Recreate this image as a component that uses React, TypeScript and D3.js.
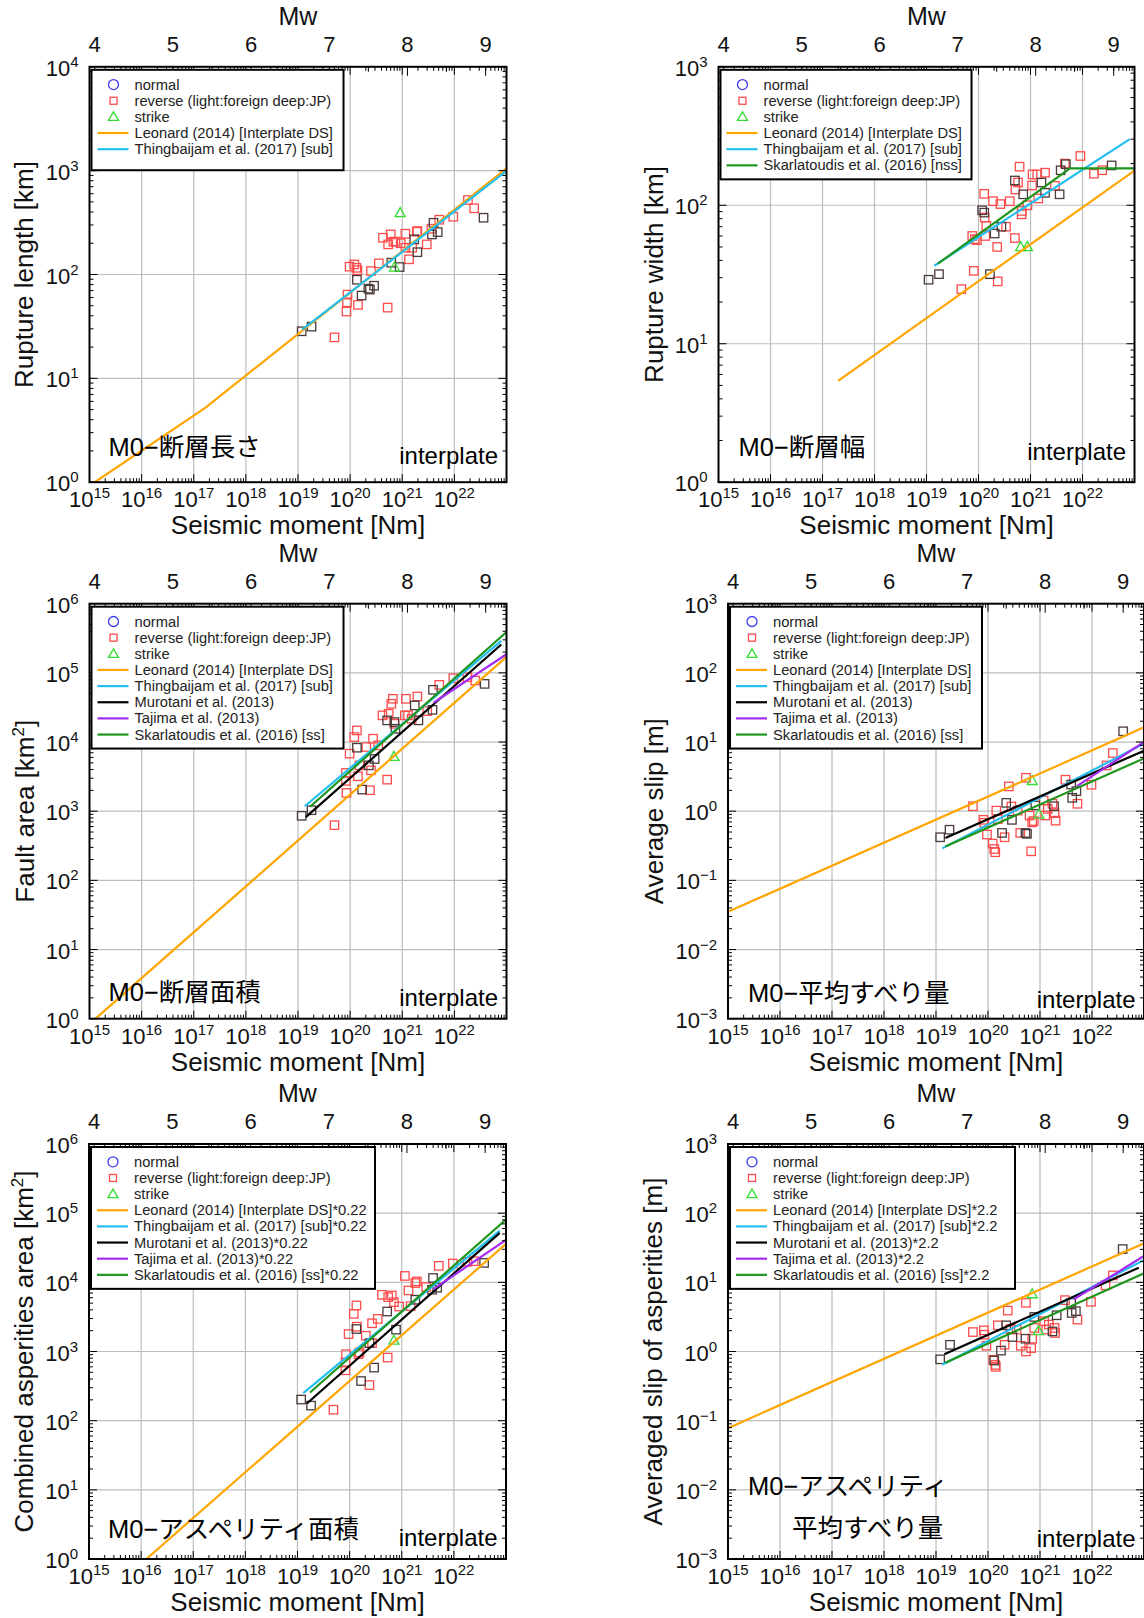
import React from 'react';
import * as d3 from 'd3';

type Pt = [number, number]; // [log10 seismic moment (Nm), value]

// ---------- Panel 1: rupture length [km] ----------
const lengthJapan: Pt[] = [[19.07, 28.4], [19.26, 31.5], [20.13, 89], [20.22, 62.7], [20.35, 73], [20.38, 71.6], [20.46, 78], [20.79, 130], [20.95, 118], [21.23, 218], [21.29, 164], [21.57, 243], [21.6, 315], [21.68, 256], [22.56, 352]];
const lengthForeign: Pt[] = [[19.7, 24.8], [19.93, 44], [19.94, 54], [19.95, 64], [19.99, 119], [20.08, 125], [20.12, 116], [20.14, 110], [20.15, 51], [20.4, 108], [20.55, 128], [20.63, 226], [20.72, 48], [20.73, 195], [20.78, 243], [20.83, 207], [20.87, 207], [20.97, 200], [21.06, 247], [21.06, 181], [21.13, 140], [21.19, 181], [21.28, 258], [21.29, 262], [21.47, 195], [21.56, 276], [21.71, 337], [21.98, 360], [22.26, 521], [22.38, 434]];
const lengthStrike: Pt[] = [[20.96, 394], [20.85, 118]];
const lengthLeonard: Pt[] = [[15.1, 1.0], [17.22, 5.2], [23.0, 1054]];
const lengthThingbaijam: Pt[] = [[19.08, 29.4], [22.98, 977]];

// ---------- Panel 2: rupture width [km] ----------
const widthJapan: Pt[] = [[19.04, 29], [19.24, 31.8], [20.07, 92], [20.11, 88.5], [20.22, 31.8], [20.31, 62.5], [20.44, 70], [20.7, 151], [20.86, 120], [21.21, 146], [21.28, 123], [21.56, 120], [21.58, 179], [21.68, 198], [22.56, 194]];
const widthForeign: Pt[] = [[19.67, 24.8], [19.91, 33.6], [19.88, 60], [19.93, 57], [19.97, 56], [20.11, 121], [20.12, 81.5], [20.13, 60], [20.15, 71], [20.28, 107], [20.36, 50], [20.42, 102], [20.37, 28.2], [20.53, 70], [20.6, 107], [20.7, 58], [20.71, 130], [20.76, 146], [20.79, 190], [20.83, 91], [20.83, 86], [20.94, 100], [21.03, 139], [21.04, 167], [21.13, 167], [21.15, 112], [21.28, 172], [21.47, 138], [21.66, 200], [21.96, 227], [22.22, 169], [22.38, 179]];
const widthStrike: Pt[] = [[20.81, 50.3], [20.94, 50.3]];
const widthLeonard: Pt[] = [[17.3, 5.4], [23.0, 178]];
const widthThingbaijam: Pt[] = [[19.15, 36.6], [22.91, 300]];
const widthSkarlatoudis: Pt[] = [[19.22, 37.9], [21.76, 184.5], [23.0, 184.5]];

// ---------- Panel 3: fault area [km2] ----------
const areaJapan: Pt[] = [[19.07, 857], [19.26, 1033], [20.13, 8280], [20.23, 2055], [20.36, 4605], [20.47, 5684], [20.71, 20560], [20.85, 19420], [20.87, 15560], [21.24, 33800], [21.31, 20560], [21.59, 56900], [21.58, 29200], [22.58, 69300]];
const areaForeign: Pt[] = [[19.7, 628], [19.92, 3575], [19.92, 2740], [19.93, 1838], [19.99, 6790], [20.08, 11800], [20.13, 14700], [20.15, 3200], [20.18, 4605], [20.31, 8470], [20.38, 2010], [20.4, 3900], [20.44, 11170], [20.54, 8950], [20.62, 24300], [20.71, 2860], [20.74, 25650], [20.79, 35700], [20.82, 42200], [20.85, 18370], [21.05, 24300], [21.07, 42200], [21.11, 24300], [21.18, 21700], [21.29, 45600], [21.48, 28000], [21.71, 67100], [21.98, 83700], [22.25, 86600], [22.4, 77500]];
const areaStrike: Pt[] = [[20.84, 6210]];
const areaLeonard: Pt[] = [[15.115, 1], [23.0, 1.7e5]];
const areaThingbaijam: Pt[] = [[19.13, 1180], [22.9, 2.9e5]];
const areaMurotani: Pt[] = [[19.15, 820], [22.9, 2.57e5]];
const areaTajima: Pt[] = [[21.6, 3.7e4], [23.0, 1.86e5]];
const areaSkarlatoudis: Pt[] = [[19.23, 1160], [23.0, 3.9e5]];

// ---------- Panel 4: average slip [m] ----------
const slipJapan: Pt[] = [[19.08, 0.42], [19.26, 0.54], [20.27, 0.485], [20.35, 1.32], [20.46, 0.75], [20.72, 0.485], [20.75, 0.47], [20.91, 1.21], [21.27, 1.18], [21.6, 2.43], [21.62, 1.56], [21.7, 1.95], [22.6, 14.3]];
const slipForeign: Pt[] = [[19.71, 1.18], [19.91, 0.75], [19.93, 0.68], [19.98, 0.46], [20.09, 0.34], [20.12, 0.284], [20.14, 0.255], [20.16, 1.02], [20.19, 0.77], [20.32, 0.42], [20.4, 2.28], [20.45, 1.17], [20.57, 1.02], [20.62, 0.485], [20.73, 3.04], [20.8, 0.865], [20.85, 0.69], [20.88, 0.72], [20.83, 0.263], [21.07, 1.43], [21.1, 0.865], [21.15, 1.08], [21.24, 1.28], [21.28, 0.935], [21.3, 0.73], [21.49, 2.85], [21.72, 1.28], [21.99, 2.41], [22.28, 4.59], [22.4, 6.93]];
const slipStrike: Pt[] = [[20.85, 2.78], [20.98, 0.91]];
const slipLeonard: Pt[] = [[15.02, 0.0357], [23.0, 16.3]];
const slipThingbaijam: Pt[] = [[19.12, 0.29], [23.0, 9.5]];
const slipMurotani: Pt[] = [[19.18, 0.41], [23.0, 7.5]];
const slipTajima: Pt[] = [[21.71, 2.3], [23.0, 10.0]];
const slipSkarlatoudis: Pt[] = [[19.18, 0.31], [23.0, 5.8]];

// ---------- Panel 5: combined asperities area [km2] ----------
const aspAreaJapan: Pt[] = [[19.07, 202], [19.26, 165], [20.13, 2114], [20.22, 374], [20.38, 1322], [20.47, 585], [20.72, 3785], [20.89, 2070], [21.26, 5600], [21.58, 7820], [21.6, 11560], [21.68, 8360], [22.58, 19100]];
const aspAreaForeign: Pt[] = [[19.69, 144], [19.92, 535], [19.92, 692], [19.93, 914], [19.98, 1786], [20.08, 3500], [20.13, 4630], [20.14, 2285], [20.17, 914], [20.19, 970], [20.31, 1690], [20.38, 327], [20.43, 2560], [20.43, 1322], [20.54, 2960], [20.62, 6600], [20.73, 818], [20.74, 6110], [20.81, 6460], [20.85, 5170], [20.95, 4470], [21.06, 12370], [21.13, 7640], [21.17, 4520], [21.26, 9770], [21.29, 10300], [21.47, 8550], [21.71, 17300], [21.98, 18700], [22.26, 19800], [22.38, 20200]];
const aspAreaStrike: Pt[] = [[20.85, 1462]];
const aspAreaLeonard: Pt[] = [[16.1, 1], [23.0, 3.6e4]];
const aspAreaThingbaijam: Pt[] = [[19.11, 250], [22.88, 5.6e4]];
const aspAreaMurotani: Pt[] = [[19.18, 177], [22.88, 5.2e4]];
const aspAreaTajima: Pt[] = [[21.61, 8.0e3], [23.0, 4.1e4]];
const aspAreaSkarlatoudis: Pt[] = [[19.24, 255], [23.0, 8.1e4]];

// ---------- Panel 6: averaged slip of asperities [m] ----------
const aspSlipJapan: Pt[] = [[19.08, 0.77], [19.27, 1.25], [20.12, 0.74], [20.25, 1.03], [20.35, 2.39], [20.47, 1.62], [20.72, 1.53], [20.89, 3.16], [21.24, 1.95], [21.32, 3.34], [21.6, 5.06], [21.61, 3.61], [21.69, 3.83], [22.59, 30.3]];
const aspSlipForeign: Pt[] = [[19.71, 1.91], [19.92, 2.02], [19.93, 1.75], [19.97, 1.21], [20.1, 0.76], [20.14, 0.64], [20.15, 0.6], [20.19, 2.39], [20.32, 1.25], [20.38, 3.91], [20.43, 2.11], [20.55, 2.07], [20.63, 1.21], [20.73, 5.06], [20.73, 1.0], [20.83, 1.12], [20.85, 1.53], [20.89, 2.19], [21.08, 2.74], [21.12, 2.07], [21.17, 2.45], [21.28, 2.19], [21.29, 1.85], [21.48, 5.53], [21.72, 2.89], [21.98, 5.23], [22.26, 9.04], [22.4, 12.6]];
const aspSlipStrike: Pt[] = [[20.85, 6.84], [20.97, 2.0]];
const aspSlipLeonard: Pt[] = [[15.0, 0.078], [23.0, 36.6]];
const aspSlipThingbaijam: Pt[] = [[19.12, 0.645], [23.0, 21]];
const aspSlipMurotani: Pt[] = [[19.16, 0.91], [22.9, 16.3]];
const aspSlipTajima: Pt[] = [[21.65, 5.7], [23.0, 24]];
const aspSlipSkarlatoudis: Pt[] = [[19.18, 0.69], [23.0, 13.5]];

// ---------- axes ----------
const momentExponents = [15, 16, 17, 18, 19, 20, 21, 22];
const mwTicks = [4, 5, 6, 7, 8, 9];
const mwHalfTicks = [4.5, 5.5, 6.5, 7.5, 8.5];

const C_ORANGE = '#ffa500';
const C_CYAN = '#22bff0';
const C_BLACK = '#000000';
const C_PURPLE = '#a32cf0';
const C_GREEN = '#1e961e';
const C_RED = '#ff4b4b';
const C_DARK = '#4a3a3a';
const C_TRI = '#33dd33';
const C_BLUE = '#3c3cf0';

const FONT = "'Liberation Sans', Arial, Helvetica, sans-serif";
const JFONT = "'Liberation Sans', 'Noto Sans CJK JP', sans-serif";

interface LineSpec { label: string; color: string; pts: Pt[] }
interface PanelCfg {
  id: string;
  left: number; top: number; width: number; height: number;
  yMin: number; yMax: number;
  yTitle: string; ySup?: string; yTail?: string; yTitleX: number;
  japan: Pt[]; foreign: Pt[]; strike: Pt[];
  lines: LineSpec[];
  legendW: number; legendPad: number;
  anno: { text: string; dx: number; dy: number }[];
  interDy: number;
}

const sfx = (s: string, f: string) => s + f;

const panels: PanelCfg[] = [
  {
    id: 'p1', left: 89.5, top: 66.8, width: 417, height: 415.4, yMin: 0, yMax: 4,
    yTitle: 'Rupture length [km]', yTitleX: 33,
    japan: lengthJapan, foreign: lengthForeign, strike: lengthStrike,
    lines: [
      { label: 'Leonard (2014) [Interplate DS]', color: C_ORANGE, pts: lengthLeonard },
      { label: 'Thingbaijam et al. (2017) [sub]', color: C_CYAN, pts: lengthThingbaijam },
    ],
    legendW: 252, legendPad: 21,
    anno: [{ text: 'M0−断層長さ', dx: 19, dy: -26 }], interDy: -18,
  },
  {
    id: 'p2', left: 718.5, top: 66.8, width: 416, height: 415.4, yMin: 0, yMax: 3,
    yTitle: 'Rupture width [km]', yTitleX: 662.5,
    japan: widthJapan, foreign: widthForeign, strike: widthStrike,
    lines: [
      { label: 'Leonard (2014) [Interplate DS]', color: C_ORANGE, pts: widthLeonard },
      { label: 'Thingbaijam et al. (2017) [sub]', color: C_CYAN, pts: widthThingbaijam },
      { label: 'Skarlatoudis et al. (2016) [nss]', color: C_GREEN, pts: widthSkarlatoudis },
    ],
    legendW: 251, legendPad: 14,
    anno: [{ text: 'M0−断層幅', dx: 20, dy: -26 }], interDy: -22,
  },
  {
    id: 'p3', left: 89.5, top: 603.7, width: 417, height: 415, yMin: 0, yMax: 6,
    yTitle: 'Fault area [km', ySup: '2', yTail: ']', yTitleX: 34,
    japan: areaJapan, foreign: areaForeign, strike: areaStrike,
    lines: [
      { label: 'Leonard (2014) [Interplate DS]', color: C_ORANGE, pts: areaLeonard },
      { label: 'Thingbaijam et al. (2017) [sub]', color: C_CYAN, pts: areaThingbaijam },
      { label: 'Murotani et al. (2013)', color: C_BLACK, pts: areaMurotani },
      { label: 'Tajima et al. (2013)', color: C_PURPLE, pts: areaTajima },
      { label: 'Skarlatoudis et al. (2016) [ss]', color: C_GREEN, pts: areaSkarlatoudis },
    ],
    legendW: 252, legendPad: 14,
    anno: [{ text: 'M0−断層面積', dx: 19, dy: -18 }], interDy: -13,
  },
  {
    id: 'p4', left: 728, top: 603.7, width: 416, height: 415, yMin: -3, yMax: 3,
    yTitle: 'Average slip [m]', yTitleX: 662.5,
    japan: slipJapan, foreign: slipForeign, strike: slipStrike,
    lines: [
      { label: 'Leonard (2014) [Interplate DS]', color: C_ORANGE, pts: slipLeonard },
      { label: 'Thingbaijam et al. (2017) [sub]', color: C_CYAN, pts: slipThingbaijam },
      { label: 'Murotani et al. (2013)', color: C_BLACK, pts: slipMurotani },
      { label: 'Tajima et al. (2013)', color: C_PURPLE, pts: slipTajima },
      { label: 'Skarlatoudis et al. (2016) [ss]', color: C_GREEN, pts: slipSkarlatoudis },
    ],
    legendW: 252, legendPad: 14,
    anno: [{ text: 'M0−平均すべり量', dx: 20, dy: -17 }], interDy: -11,
  },
  {
    id: 'p5', left: 89, top: 1144, width: 417, height: 415, yMin: 0, yMax: 6,
    yTitle: 'Combined asperities area [km', ySup: '2', yTail: ']', yTitleX: 33,
    japan: aspAreaJapan, foreign: aspAreaForeign, strike: aspAreaStrike,
    lines: [
      { label: sfx('Leonard (2014) [Interplate DS]', '*0.22'), color: C_ORANGE, pts: aspAreaLeonard },
      { label: sfx('Thingbaijam et al. (2017) [sub]', '*0.22'), color: C_CYAN, pts: aspAreaThingbaijam },
      { label: sfx('Murotani et al. (2013)', '*0.22'), color: C_BLACK, pts: aspAreaMurotani },
      { label: sfx('Tajima et al. (2013)', '*0.22'), color: C_PURPLE, pts: aspAreaTajima },
      { label: sfx('Skarlatoudis et al. (2016) [ss]', '*0.22'), color: C_GREEN, pts: aspAreaSkarlatoudis },
    ],
    legendW: 284, legendPad: 14,
    anno: [{ text: 'M0−アスペリティ面積', dx: 19, dy: -21 }], interDy: -13,
  },
  {
    id: 'p6', left: 728, top: 1144, width: 416, height: 415, yMin: -3, yMax: 3,
    yTitle: 'Averaged slip of asperities [m]', yTitleX: 662,
    japan: aspSlipJapan, foreign: aspSlipForeign, strike: aspSlipStrike,
    lines: [
      { label: sfx('Leonard (2014) [Interplate DS]', '*2.2'), color: C_ORANGE, pts: aspSlipLeonard },
      { label: sfx('Thingbaijam et al. (2017) [sub]', '*2.2'), color: C_CYAN, pts: aspSlipThingbaijam },
      { label: sfx('Murotani et al. (2013)', '*2.2'), color: C_BLACK, pts: aspSlipMurotani },
      { label: sfx('Tajima et al. (2013)', '*2.2'), color: C_PURPLE, pts: aspSlipTajima },
      { label: sfx('Skarlatoudis et al. (2016) [ss]', '*2.2'), color: C_GREEN, pts: aspSlipSkarlatoudis },
    ],
    legendW: 285, legendPad: 14,
    anno: [{ text: 'M0−アスペリティ', dx: 20, dy: -64 }, { text: '平均すべり量', dx: 64, dy: -22 }], interDy: -12,
  },
];

const expText = (e: number) => (e < 0 ? '−' + String(-e) : String(e));

function Square({ cx, cy, color }: { cx: number; cy: number; color: string }) {
  return <rect x={cx - 4.2} y={cy - 4.2} width={8.4} height={8.4} fill="none" stroke={color} strokeWidth={1.3} />;
}
function Tri({ cx, cy }: { cx: number; cy: number }) {
  return <path d={`M${cx},${cy - 5}L${cx + 5},${cy + 4}L${cx - 5},${cy + 4}Z`} fill="none" stroke={C_TRI} strokeWidth={1.3} />;
}

function Panel({ c }: { c: PanelCfg }) {
  const right = c.left + c.width;
  const bottom = c.top + c.height;
  const x = d3.scaleLog().domain([1e15, 1e23]).range([c.left, right]);
  const y = d3.scaleLog().domain([Math.pow(10, c.yMin), Math.pow(10, c.yMax)]).range([bottom, c.top]);
  const X = (lm: number) => x(Math.pow(10, lm));
  const line = d3.line<Pt>().x((d) => X(d[0])).y((d) => y(d[1]));
  const xDec = d3.range(15, 24);
  const yDec = d3.range(c.yMin, c.yMax + 1);
  const xMinor = d3.range(15, 23).flatMap((e) => d3.range(2, 10).map((k) => k * Math.pow(10, e)));
  const yMinor = d3.range(c.yMin, c.yMax).flatMap((e) => d3.range(2, 10).map((k) => k * Math.pow(10, e)));
  const mwX = (mw: number) => X(1.5 * mw + 9.1);
  const cx = (c.left + right) / 2;
  const cy = (c.top + bottom) / 2;

  // legend geometry
  const lgTop = c.top + 3;
  const row0 = c.top + 17.8;
  const rowH = 16.15;
  const nRows = 3 + c.lines.length;
  const lgBottom = row0 + (nRows - 1) * rowH + c.legendPad;
  const symX = c.left + 24;
  const txtX = c.left + 45;

  return (
    <g>
      <defs>
        <clipPath id={'clip-' + c.id}>
          <rect x={c.left} y={c.top} width={c.width} height={c.height} />
        </clipPath>
      </defs>
      {/* grid */}
      <g stroke="#bdbdbd" strokeWidth={1.2}>
        {xDec.slice(1, -1).map((e) => (
          <line key={'gx' + e} x1={X(e)} x2={X(e)} y1={c.top} y2={bottom} />
        ))}
        {yDec.slice(1, -1).map((e) => (
          <line key={'gy' + e} x1={c.left} x2={right} y1={y(Math.pow(10, e))} y2={y(Math.pow(10, e))} />
        ))}
      </g>
      {/* points and fitted lines */}
      <g clipPath={`url(#clip-${c.id})`}>
        {c.foreign.map((d, i) => (
          <Square key={'f' + i} cx={X(d[0])} cy={y(d[1])} color={C_RED} />
        ))}
        {c.japan.map((d, i) => (
          <Square key={'j' + i} cx={X(d[0])} cy={y(d[1])} color={C_DARK} />
        ))}
        {c.strike.map((d, i) => (
          <Tri key={'s' + i} cx={X(d[0])} cy={y(d[1])} />
        ))}
        {c.lines.map((l, i) => (
          <path key={'l' + i} d={line(l.pts) || ''} fill="none" stroke={l.color} strokeWidth={2.2} />
        ))}
      </g>
      {/* ticks */}
      <g stroke="#000" strokeWidth={1}>
        {xDec.map((e) => (
          <g key={'tx' + e}>
            <line x1={X(e)} x2={X(e)} y1={bottom} y2={bottom - 8} />
            <line x1={X(e)} x2={X(e)} y1={c.top} y2={c.top + 8} />
          </g>
        ))}
        {xMinor.map((v, i) => (
          <g key={'mx' + i}>
            <line x1={x(v)} x2={x(v)} y1={bottom} y2={bottom - 4} />
            <line x1={x(v)} x2={x(v)} y1={c.top} y2={c.top + 4} />
          </g>
        ))}
        {yDec.map((e) => (
          <g key={'ty' + e}>
            <line x1={c.left} x2={c.left + 8} y1={y(Math.pow(10, e))} y2={y(Math.pow(10, e))} />
            <line x1={right} x2={right - 8} y1={y(Math.pow(10, e))} y2={y(Math.pow(10, e))} />
          </g>
        ))}
        {yMinor.map((v, i) => (
          <g key={'my' + i}>
            <line x1={c.left} x2={c.left + 4} y1={y(v)} y2={y(v)} />
            <line x1={right} x2={right - 4} y1={y(v)} y2={y(v)} />
          </g>
        ))}
        {mwTicks.map((m) => (
          <line key={'mw' + m} x1={mwX(m)} x2={mwX(m)} y1={c.top} y2={c.top + 9} />
        ))}
        {mwHalfTicks.map((m) => (
          <line key={'mwh' + m} x1={mwX(m)} x2={mwX(m)} y1={c.top} y2={c.top + 5} />
        ))}
      </g>
      {/* frame */}
      <rect x={c.left} y={c.top} width={c.width} height={c.height} fill="none" stroke="#000" strokeWidth={2} />
      {/* legend */}
      <rect x={c.left + 2} y={lgTop} width={c.legendW} height={lgBottom - lgTop} fill="#fff" stroke="#000" strokeWidth={2} />
      <g fontFamily={FONT} fontSize={14.7} fill="#222">
        <circle cx={symX} cy={row0} r={5} fill="none" stroke={C_BLUE} strokeWidth={1.3} />
        <text x={txtX} y={row0 + 5}>normal</text>
        <rect x={symX - 3.5} y={row0 + rowH - 3.5} width={7} height={7} fill="none" stroke={C_RED} strokeWidth={1.3} />
        <text x={txtX} y={row0 + rowH + 5}>reverse (light:foreign deep:JP)</text>
        <path d={`M${symX},${row0 + 2 * rowH - 5}L${symX + 5},${row0 + 2 * rowH + 3.5}L${symX - 5},${row0 + 2 * rowH + 3.5}Z`} fill="none" stroke={C_TRI} strokeWidth={1.3} />
        <text x={txtX} y={row0 + 2 * rowH + 5}>strike</text>
        {c.lines.map((l, i) => {
          const ry = row0 + (3 + i) * rowH;
          return (
            <g key={'lg' + i}>
              <line x1={c.left + 8} x2={c.left + 39} y1={ry} y2={ry} stroke={l.color} strokeWidth={2.2} />
              <text x={txtX} y={ry + 5}>{l.label}</text>
            </g>
          );
        })}
      </g>
      {/* tick labels */}
      <g fontFamily={FONT} fill="#111">
        {momentExponents.map((e) => (
          <text key={'xl' + e} x={X(e)} y={bottom + 25} textAnchor="middle" fontSize={22}>
            10<tspan dy={-9} fontSize={15}>{expText(e)}</tspan>
          </text>
        ))}
        {yDec.map((e) => (
          <text key={'yl' + e} x={c.left - 11} y={y(Math.pow(10, e)) + 9} textAnchor="end" fontSize={22}>
            10<tspan dy={-9} fontSize={15}>{expText(e)}</tspan>
          </text>
        ))}
        {mwTicks.map((m) => (
          <text key={'mwl' + m} x={mwX(m)} y={c.top - 15} textAnchor="middle" fontSize={22}>
            {m}
          </text>
        ))}
        <text x={cx} y={c.top - 42} textAnchor="middle" fontSize={25}>Mw</text>
        <text x={cx} y={bottom + 52} textAnchor="middle" fontSize={26}>Seismic moment [Nm]</text>
        <text transform={`translate(${c.yTitleX},${cy}) rotate(-90)`} textAnchor="middle" fontSize={26}>
          {c.yTitle}
          {c.ySup ? <tspan dy={-10} fontSize={17}>{c.ySup}</tspan> : null}
          {c.yTail ? <tspan dy={10}>{c.yTail}</tspan> : null}
        </text>
      </g>
      {/* annotations */}
      <g fontFamily={JFONT} fill="#000">
        {c.anno.map((a, i) => (
          <text key={'an' + i} x={c.left + a.dx} y={bottom + a.dy} fontSize={25.5}>
            {a.text}
          </text>
        ))}
        <text x={right - 8.5} y={bottom + c.interDy} textAnchor="end" fontFamily={FONT} fontSize={24}>
          interplate
        </text>
      </g>
    </g>
  );
}

export default function App() {
  return (
    <svg
      width={1144}
      height={1618}
      viewBox="0 0 1144 1618"
      style={{ position: 'absolute', left: 0, top: 0, background: '#fff' }}
    >
      <rect x={0} y={0} width={1144} height={1618} fill="#fff" />
      {panels.map((p) => (
        <Panel key={p.id} c={p} />
      ))}
    </svg>
  );
}
